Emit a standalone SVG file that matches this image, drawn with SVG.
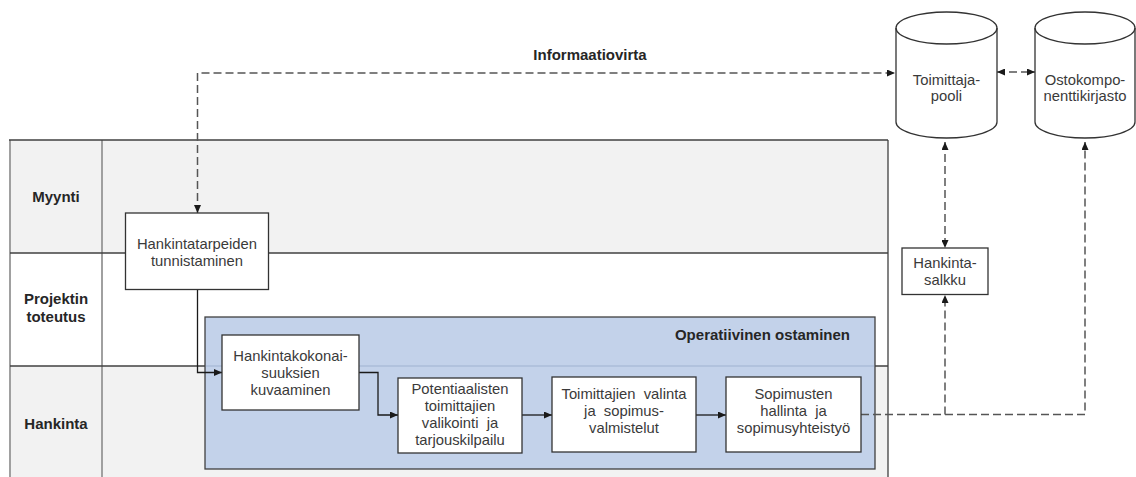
<svg xmlns="http://www.w3.org/2000/svg" width="1136" height="477" viewBox="0 0 1136 477">
  <style>
    .lane-gray { fill: #f2f2f2; }
    .lane-line { stroke: #404040; stroke-width: 1.3; fill: none; }
    .lane-side { stroke: #a0a0a0; stroke-width: 2; fill: none; }
    .lane-label { font-family: "Liberation Sans", Arial, sans-serif; font-size: 15px; font-weight: bold; fill: #262626; text-anchor: middle; }
    .box { fill: #ffffff; stroke: #333333; stroke-width: 1.3; }
    .txt { font-family: "Liberation Sans", Arial, sans-serif; font-size: 14.8px; fill: #3a3a3a; text-anchor: middle; white-space: pre; }
    .title { font-family: "Liberation Sans", Arial, sans-serif; font-size: 15px; font-weight: bold; fill: #262626; }
    .flow { stroke: #1a1a1a; stroke-width: 1.3; fill: none; }
    .info { stroke: #555555; stroke-width: 1.5; stroke-dasharray: 8 4; fill: none; }
    .group { fill: #c3d2ea; stroke: #404040; stroke-width: 1.3; }
  </style>
  <defs>
    <marker id="arrow" viewBox="0 0 8 7" refX="8" refY="3.5" markerWidth="8" markerHeight="7" markerUnits="userSpaceOnUse" orient="auto-start-reverse">
      <path d="M0,0 L8,3.5 L0,7 z" fill="#1a1a1a"/>
    </marker>
  </defs>

  <!-- swimlane pool -->
  <g id="pool">
    <rect class="lane-gray" x="10" y="140" width="878" height="113"/>
    <rect x="10" y="253" width="878" height="113" fill="#ffffff"/>
    <rect class="lane-gray" x="10" y="366" width="878" height="111"/>
    <line class="lane-side" x1="10" y1="140" x2="10" y2="477"/>
    <line class="lane-side" x1="102" y1="140" x2="102" y2="477"/>
    <line class="lane-line" x1="9" y1="140" x2="888" y2="140"/>
    <line class="lane-line" x1="888" y1="140" x2="888" y2="477"/>
    <line class="lane-line" x1="10" y1="253" x2="888" y2="253"/>
    <line class="lane-line" x1="10" y1="366" x2="888" y2="366"/>
    <text class="lane-label" x="56" y="202">Myynti</text>
    <text class="lane-label" x="56" y="304">Projektin</text>
    <text class="lane-label" x="56" y="322">toteutus</text>
    <text class="lane-label" x="56" y="429">Hankinta</text>
  </g>

  <!-- operative purchasing group -->
  <g id="operatiivinen">
    <rect class="group" x="205" y="317" width="670" height="152"/>
    <line x1="206" y1="366" x2="874" y2="366" stroke="#9fb2cf" stroke-width="1.2"/>
    <text class="title" x="850" y="340" text-anchor="end">Operatiivinen ostaminen</text>
  </g>

  <!-- connectors -->
  <g id="connectors">
    <polyline class="flow" points="197.5,290 197.5,372.5 222,372.5" marker-end="url(#arrow)"/>
    <polyline class="flow" points="359,372.5 378,372.5 378,415 398,415" marker-end="url(#arrow)"/>
    <line class="flow" x1="522" y1="415" x2="552" y2="415" marker-end="url(#arrow)"/>
    <line class="flow" x1="696" y1="415" x2="726" y2="415" marker-end="url(#arrow)"/>
    <polyline class="info" points="197.5,213 197.5,73 895,73" marker-start="url(#arrow)" marker-end="url(#arrow)"/>
    <line class="info" x1="997" y1="72" x2="1035" y2="72" marker-start="url(#arrow)" marker-end="url(#arrow)"/>
    <line class="info" x1="945" y1="142" x2="945" y2="248" marker-start="url(#arrow)" marker-end="url(#arrow)"/>
    <polyline class="info" points="861,414.5 1085,414.5 1085,142" marker-end="url(#arrow)"/>
    <polyline class="info" points="945,414.5 945,295" marker-end="url(#arrow)"/>
  </g>
  <text class="title" x="590" y="60" text-anchor="middle">Informaatiovirta</text>

  <!-- process steps -->
  <g id="tarpeiden-tunnistaminen">
    <rect class="box" x="125.5" y="213" width="143" height="76.5"/>
    <text class="txt" x="197" y="249">Hankintatarpeiden</text>
    <text class="txt" x="197" y="266">tunnistaminen</text>
  </g>
  <g id="kokonaisuuksien-kuvaaminen">
    <rect class="box" x="222" y="335" width="137" height="75"/>
    <text class="txt" x="290.5" y="361">Hankintakokonai-</text>
    <text class="txt" x="290.5" y="378">suuksien</text>
    <text class="txt" x="290.5" y="395">kuvaaminen</text>
  </g>
  <g id="valikointi">
    <rect class="box" x="398" y="378" width="124" height="75"/>
    <text class="txt" x="460" y="394">Potentiaalisten</text>
    <text class="txt" x="460" y="411">toimittajien</text>
    <text class="txt" x="460" y="428">valikointi  ja</text>
    <text class="txt" x="460" y="445">tarjouskilpailu</text>
  </g>
  <g id="valinta">
    <rect class="box" x="552" y="377" width="144" height="75"/>
    <text class="txt" x="624" y="399">Toimittajien  valinta</text>
    <text class="txt" x="624" y="416">ja  sopimus-</text>
    <text class="txt" x="624" y="433">valmistelut</text>
  </g>
  <g id="sopimusten-hallinta">
    <rect class="box" x="726" y="377" width="135" height="75"/>
    <text class="txt" x="793.5" y="399">Sopimusten</text>
    <text class="txt" x="793.5" y="416">hallinta  ja</text>
    <text class="txt" x="793.5" y="433">sopimusyhteistyö</text>
  </g>
  <g id="hankintasalkku">
    <rect class="box" x="902" y="248" width="86" height="46.5"/>
    <text class="txt" x="945" y="268">Hankinta-</text>
    <text class="txt" x="945" y="285">salkku</text>
  </g>

  <!-- data stores -->
  <g id="toimittajapooli">
    <path class="box" d="M896,28 A50.5,16 0 0 1 997,28 L997,122 A50.5,16 0 0 1 896,122 Z"/>
    <path d="M896,28 A50.5,16 0 0 0 997,28" fill="none" stroke="#333333" stroke-width="1.3"/>
    <text class="txt" x="946.5" y="85">Toimittaja-</text>
    <text class="txt" x="946.5" y="101">pooli</text>
  </g>
  <g id="ostokomponenttikirjasto">
    <path class="box" d="M1035,28 A50,16 0 0 1 1135,28 L1135,122 A50,16 0 0 1 1035,122 Z"/>
    <path d="M1035,28 A50,16 0 0 0 1135,28" fill="none" stroke="#333333" stroke-width="1.3"/>
    <text class="txt" x="1085" y="85">Ostokompo-</text>
    <text class="txt" x="1085" y="101">nenttikirjasto</text>
  </g>
</svg>
